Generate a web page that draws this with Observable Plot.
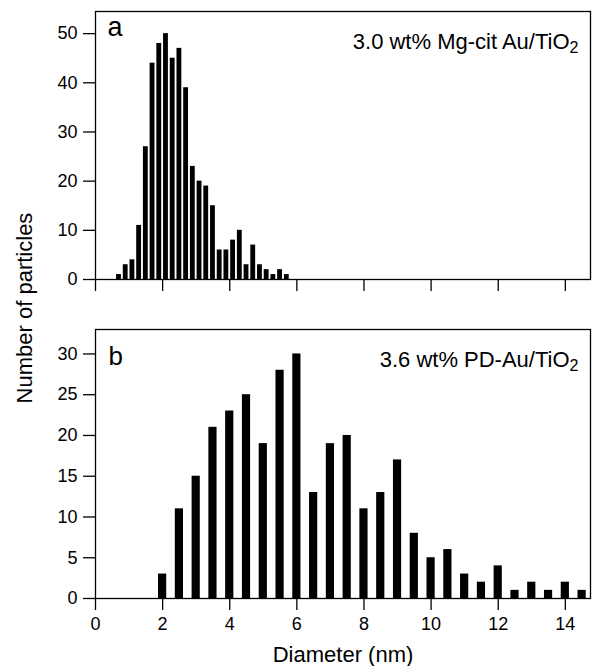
<!DOCTYPE html>
<html>
<head>
<meta charset="utf-8">
<script src="https://cdn.jsdelivr.net/npm/d3@7"></script>
<script src="https://cdn.jsdelivr.net/npm/@observablehq/plot@0.6"></script>
<style>
  body { margin: 0; background: #fff; }
  #wrap { position: relative; width: 592px; height: 666px; font-family: "Liberation Sans", Arial, sans-serif; color: #000; }
  #pa { position: absolute; left: 0; top: 0; }
  #pb { position: absolute; left: 0; top: 300px; }
  #ylab { position: absolute; left: -125px; top: 295px; width: 300px; height: 26px; line-height: 26px;
          text-align: center; font-size: 22px; transform: rotate(-90deg); transform-origin: center; }
</style>
</head>
<body>
<div id="wrap">
  <div id="pa"></div>
  <div id="pb"></div>
  <div id="ylab">Number of particles</div>
</div>
<script>
// Panel a: 3.0 wt% Mg-cit Au/TiO2 (bin centres in nm, counts)
const diameterA = [0.7, 0.9, 1.1, 1.3, 1.5, 1.7, 1.9, 2.1, 2.3, 2.5, 2.7, 2.9, 3.1,
                   3.3, 3.5, 3.7, 3.9, 4.1, 4.3, 4.5, 4.7, 4.9, 5.1, 5.3, 5.5, 5.7];
const countsA   = [1, 3, 4, 11, 27, 44, 48, 50, 45, 47, 39, 23, 20,
                   19, 15, 6, 6, 8, 10, 3, 7, 3, 2, 1, 2, 1];

// Panel b: 3.6 wt% PD-Au/TiO2
const diameterB = [2.0, 2.5, 3.0, 3.5, 4.0, 4.5, 5.0, 5.5, 6.0, 6.5, 7.0, 7.5, 8.0,
                   8.5, 9.0, 9.5, 10.0, 10.5, 11.0, 11.5, 12.0, 12.5, 13.0, 13.5, 14.0, 14.5];
const countsB   = [3, 11, 15, 21, 23, 25, 19, 28, 30, 13, 19, 20, 11,
                   13, 17, 8, 5, 6, 3, 2, 4, 1, 2, 1, 2, 1];

const xTicks  = [0, 2, 4, 6, 8, 10, 12, 14];
const yTicksA = [0, 10, 20, 30, 40, 50];
const yTicksB = [0, 5, 10, 15, 20, 25, 30];

const labelA = "a";
const labelB = "b";
const titleA = "3.0 wt% Mg-cit Au/TiO2";
const titleB = "3.6 wt% PD-Au/TiO2";
const xLabel = "Diameter (nm)";

const dataA = diameterA.map((d, i) => ({d, n: countsA[i]}));
const dataB = diameterB.map((d, i) => ({d, n: countsB[i]}));

const font = "Liberation Sans, Arial, sans-serif";
const common = {
  width: 592,
  marginLeft: 95,
  marginRight: 2,
  style: {fontFamily: font, fontSize: "18px", background: "white", color: "black", overflow: "visible"},
  x: {domain: [0, 14.75]}
};

function subscript(svg) {
  svg.querySelectorAll("text").forEach(t => {
    if (t.childNodes.length === 1 && t.textContent.endsWith("TiO2")) {
      t.textContent = t.textContent.slice(0, -1);
      const ts = document.createElementNS("http://www.w3.org/2000/svg", "tspan");
      ts.setAttribute("dy", "0.3em");
      ts.setAttribute("font-size", "16");
      ts.textContent = "2";
      t.appendChild(ts);
    }
  });
}

const plotA = Plot.plot({
  ...common,
  height: 300,
  marginTop: 11,
  marginBottom: 21,
  y: {domain: [0, 54.5]},
  marks: [
    Plot.rectY(dataA, {x1: r => r.d - 0.072, x2: r => r.d + 0.072, y1: 0, y2: "n", fill: "black"}),
    Plot.frame({stroke: "black", strokeWidth: 1.3}),
    Plot.axisX({ticks: xTicks, tickSize: 12, tickFormat: () => "", label: null, strokeWidth: 1.3}),
    Plot.axisY({ticks: yTicksA, tickSize: 12, tickPadding: 6, label: null, strokeWidth: 1.3}),
    Plot.text([labelA], {text: d => d, frameAnchor: "top-left", textAnchor: "start", lineAnchor: "bottom", dx: 12, dy: 24, fontSize: 27}),
    Plot.text([titleA], {text: d => d, frameAnchor: "top-right", textAnchor: "end", lineAnchor: "bottom", dx: -12, dy: 37, fontSize: 22})
  ]
});
subscript(plotA);
document.getElementById("pa").appendChild(plotA);

const plotB = Plot.plot({
  ...common,
  height: 366,
  marginTop: 29,
  marginBottom: 68,
  y: {domain: [0, 33]},
  marks: [
    Plot.rectY(dataB, {x1: r => r.d - 0.122, x2: r => r.d + 0.122, y1: 0, y2: "n", fill: "black"}),
    Plot.frame({stroke: "black", strokeWidth: 1.3}),
    Plot.axisX({ticks: xTicks, tickSize: 12, tickPadding: 7, label: null, strokeWidth: 1.3}),
    Plot.axisY({ticks: yTicksB, tickSize: 12, tickPadding: 6, label: null, strokeWidth: 1.3}),
    Plot.text([labelB], {text: d => d, frameAnchor: "top-left", textAnchor: "start", lineAnchor: "bottom", dx: 13, dy: 35, fontSize: 26}),
    Plot.text([titleB], {text: d => d, frameAnchor: "top-right", textAnchor: "end", lineAnchor: "bottom", dx: -12, dy: 37, fontSize: 22}),
    Plot.text([xLabel], {text: d => d, frameAnchor: "bottom", lineAnchor: "bottom", dy: 63, fontSize: 22})
  ]
});
subscript(plotB);
document.getElementById("pb").appendChild(plotB);
</script>
</body>
</html>
